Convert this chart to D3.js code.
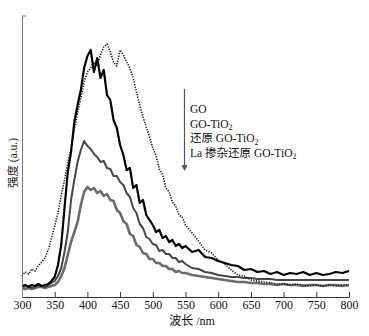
<!DOCTYPE html>
<html><head><meta charset="utf-8">
<script src="https://cdn.jsdelivr.net/npm/d3@7"></script>
<style>
body{margin:0;background:#fff;}
text{font-family:"Liberation Serif","Times New Roman","Noto Sans CJK SC",serif;}
</style></head>
<body><svg id="c" width="369" height="336"></svg>
<script>
const wavelengths = [300,305,310,315,320,325,330,335,340,345,350,355,360,365,370,375,380,385,390,395,400,405,410,415,420,425,430,435,440,445,450,455,460,465,470,475,480,485,490,495,500,505,510,515,520,525,530,535,540,545,550,560,570,580,590,600,610,620,630,640,650,660,670,680,690,700,710,720,730,740,750,760,770,780,790,800];
const xTicks = [300,350,400,450,500,550,600,650,700,750,800];
const seriesNames = ["GO","GO-TiO2","还原 GO-TiO2","La 掺杂还原 GO-TiO2"];
const goValues = [21,25,23,28,26,31,35,39,47,59, 71,84,102,117,134,149,167,185,199,215, 225,229,235,231,242,250,253,245,235,231, 247,242,235,229,219,205,192,180,170,160, 149,141,128,122,109,105,95,91,82,80, 72, 64,56,47,44,37, 33,27,22,21,17, 16,15,14,13,13, 12,13,12,11,12, 11,12,11,12,12];
const goTiO2Values = [11,12,10,12,11,13,11,12,13,16, 20,32,52,89,125,145,175,192,207,229, 241,247,225,239,219,227,202,197,177,169, 152,142,127,129,109,112,94,97,82,77, 72,65,67,59,61,55,57,51,53,49, 51, 45,47,40,39,36, 34,32,31,27,28, 25,26,23,25,22, 24,23,25,22,24, 22,23,25,24,26];
const reducedValues = [10,11,11,9,10,12,11,10,12,14, 16,21,29,45,65,97,117,135,147,156, 151,148,143,140,135,136,129,128,121,121, 115,112,104,100,89,84,73,69,60,58, 53,52,46,47,43,43,39,39,35,36, 33, 29,28,25,24,22, 21,20,20,19,19, 18,18,18,17,17, 17,17,17,17,17, 17,17,17,17,17];
const laValues = [9,8,9,8,9,10,10,9,10,11, 12,15,21,29,42,55,65,75,92,105, 110,107,109,104,106,101,103,97,96,87, 84,76,73,63,61,52,50,44,43,38, 38,34,34,31,31,28,28,25,26,24, 24, 22,21,20,19,18, 17,16,15,15,14, 14,13,13,12,13, 12,12,11,12,12, 11,12,12,11,12];

const svg = d3.select("#c");
const x = d3.scaleLinear().domain([300,800]).range([22,349]);
const y = d3.scaleLinear().domain([0,281]).range([297,16]);

const styles = [
  {vals:goValues, stroke:"#111", w:1.6, dash:"1.2,1.4"},
  {vals:goTiO2Values, stroke:"#000", w:2.2, dash:null},
  {vals:reducedValues, stroke:"#474747", w:2.0, dash:null},
  {vals:laValues, stroke:"#6b6b6b", w:2.6, dash:null}
];
const line = d3.line().x((d,i)=>x(wavelengths[i])).y(d=>y(d));
[3,2,1,0].forEach(k=>{
  const s = styles[k];
  svg.append("path").datum(s.vals).attr("d",line)
    .attr("fill","none").attr("stroke",s.stroke).attr("stroke-width",s.w)
    .attr("stroke-linejoin","round")
    .attr("stroke-dasharray",s.dash);
});

// x axis
const xAxis = d3.axisBottom(x).tickValues(xTicks).tickSize(-5).tickPadding(3).tickSizeOuter(0);
const gx = svg.append("g").attr("transform","translate(0,297)").call(xAxis);
gx.select(".domain").attr("stroke","#333");
gx.selectAll(".tick line").attr("stroke","#333");
gx.selectAll(".tick text").attr("font-size","12px").attr("fill","#111")
  .attr("font-family","Liberation Serif, serif");

// y axis (no labels)
const gy = svg.append("g").attr("transform","translate(22,0)")
  .call(d3.axisLeft(y).tickValues([]).tickSizeOuter(0));
gy.select(".domain").attr("stroke","#777");
svg.append("line").attr("x1",x(300)).attr("x2",x(300)+4).attr("y1",y(281)).attr("y2",y(281)).attr("stroke","#777");

// titles
svg.append("text").attr("x",192).attr("y",325).attr("text-anchor","middle")
  .attr("font-size","12px").attr("fill","#111").text("波长 /nm");
svg.append("text").attr("transform","translate(17,163) rotate(-90)").attr("text-anchor","middle")
  .attr("font-size","11.5px").attr("fill","#222").text("强度 (a.u.)");

// legend
svg.append("line").attr("x1",184.5).attr("x2",184.5).attr("y1",89).attr("y2",166).attr("stroke","#555").attr("stroke-width",1.2);
svg.append("path").attr("d","M181.5,165 L187.5,165 L184.5,171 Z").attr("fill","#555");
seriesNames.forEach((n,i)=>{
  const t = svg.append("text").attr("x",190).attr("y",113+i*14.6).attr("font-size","11.5px").attr("fill","#111");
  if(n.endsWith("TiO2")){
    t.append("tspan").text(n.slice(0,-1));
    t.append("tspan").attr("dy",2.5).attr("font-size","8px").text("2");
  } else t.text(n);
});
</script></body></html>
